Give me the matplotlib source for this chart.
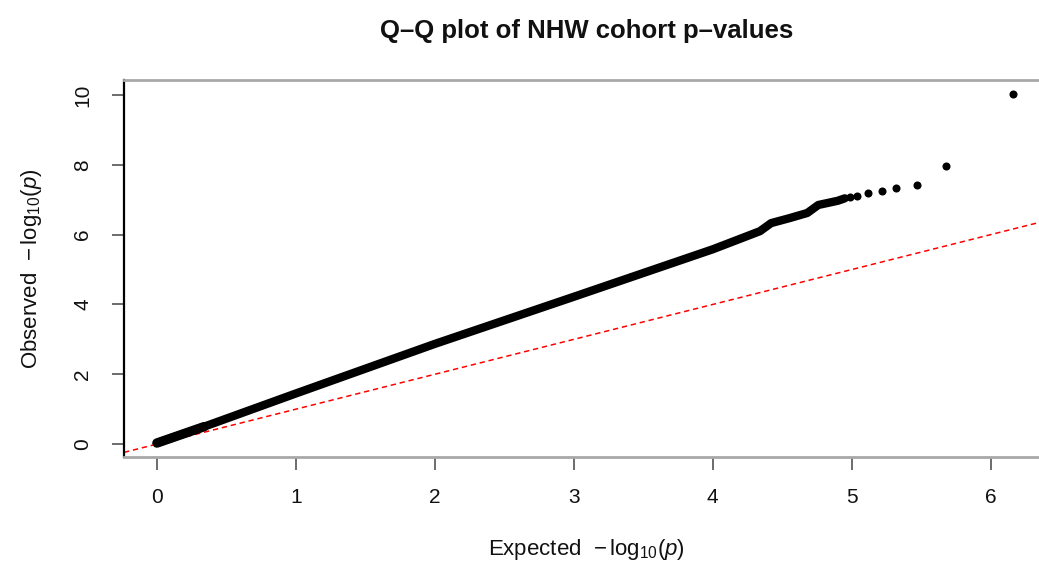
import matplotlib
matplotlib.use("Agg")
import matplotlib.pyplot as plt

plt.rcParams['font.family'] = ['Liberation Sans', 'DejaVu Sans']
plt.rcParams['mathtext.fontset'] = 'custom'
plt.rcParams['mathtext.rm'] = 'Liberation Sans'
plt.rcParams['mathtext.it'] = 'Liberation Sans:italic'

# Dense part of the Q-Q curve (expected, observed)
dense_expected = [0.0, 0.34, 1.0, 2.0, 3.0, 4.0, 4.19, 4.34, 4.42, 4.55, 4.68, 4.76, 4.90, 4.95]
dense_observed = [0.03, 0.50, 1.45, 2.87, 4.22, 5.58, 5.87, 6.10, 6.33, 6.47, 6.62, 6.85, 6.97, 7.04]

# Individually visible tail points
tail_expected = [4.99, 5.04, 5.12, 5.22, 5.32, 5.47, 5.68, 6.16]
tail_observed = [7.08, 7.11, 7.19, 7.25, 7.34, 7.42, 7.97, 10.03]

x_ticks = [0, 1, 2, 3, 4, 5, 6]
y_ticks = [0, 2, 4, 6, 8, 10]

title = "Q\u2013Q plot of NHW cohort p\u2013values"
xlabel = r"Expected  $-\,\mathrm{log}_{10}(\mathit{p})$"
ylabel = r"Observed  $-\,\mathrm{log}_{10}(\mathit{p})$"

W, H = 1039, 565
fig = plt.figure(figsize=(W / 100, H / 100), dpi=100)
left, right, top, bottom = 124, 1049, 80, 457
ax = fig.add_axes([left / W, 1 - bottom / H, (right - left) / W, (bottom - top) / H])

ax.set_xlim(-0.237, 6.42)
ax.set_ylim(-0.37, 10.43)

# reference line y = x
ax.axline((0, 0), slope=1, color='red', lw=1.1, ls=(0, (3.5, 2.5)), zorder=1)

# dense band
ax.plot(dense_expected[:2], dense_observed[:2], color='black', lw=6.8,
        solid_capstyle='round', solid_joinstyle='round', zorder=2)
ax.plot(dense_expected, dense_observed, color='black', lw=6.0,
        solid_capstyle='round', solid_joinstyle='round', zorder=3)
# tail points
ax.plot(tail_expected, tail_observed, 'o', color='black', ms=5.8, mew=0, zorder=4)

ax.set_xticks(x_ticks)
ax.set_yticks(y_ticks)
ax.tick_params(axis='both', direction='out', length=9, width=1.3, color='#606060',
               labelsize=15, labelcolor='#111111')
ax.tick_params(axis='x', pad=13)
ax.tick_params(axis='y', pad=14)
for lab in ax.get_yticklabels():
    lab.set_rotation(90)
    lab.set_va('center')

ax.spines['left'].set_color('black')
ax.spines['left'].set_linewidth(1.6)
for s in ('top', 'bottom'):
    ax.spines[s].set_color('#a8a8a8')
    ax.spines[s].set_linewidth(2.0)
ax.spines['right'].set_visible(False)

ax.set_title(title, fontsize=18.5, fontweight='bold', pad=30, color='#111111')
ax.set_xlabel(xlabel, fontsize=16, labelpad=22, color='#111111')
ax.set_ylabel(ylabel, fontsize=16, labelpad=21, color='#111111')

fig.savefig("out.png", dpi=100)
